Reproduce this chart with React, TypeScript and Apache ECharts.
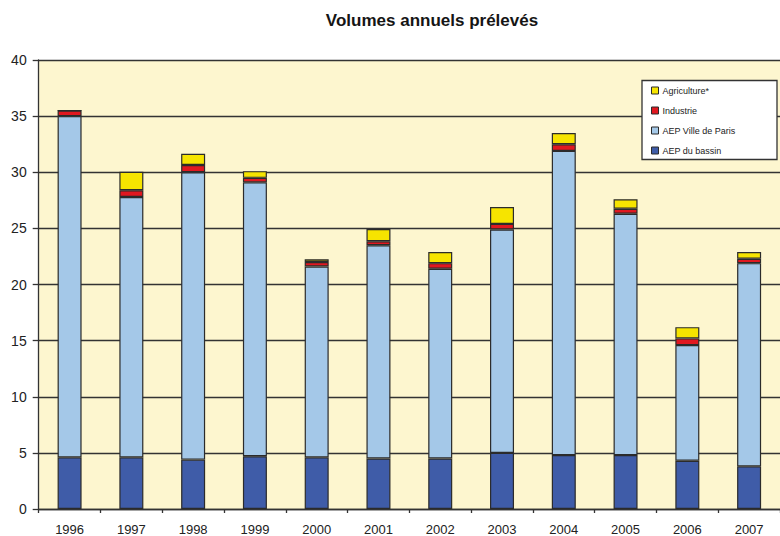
import React, { useEffect, useRef } from "react";
import * as echarts from "echarts";

const years = ["1996", "1997", "1998", "1999", "2000", "2001", "2002", "2003", "2004", "2005", "2006", "2007"];
const aepBassin = [4.6, 4.6, 4.4, 4.7, 4.6, 4.5, 4.5, 5.0, 4.8, 4.8, 4.3, 3.8];
const aepParis = [30.4, 23.2, 25.6, 24.4, 17.0, 19.0, 16.9, 19.9, 27.1, 21.5, 10.3, 18.1];
const industrie = [0.5, 0.6, 0.65, 0.4, 0.4, 0.35, 0.5, 0.5, 0.6, 0.45, 0.6, 0.4];
const agriculture = [0, 1.65, 1.0, 0.6, 0.25, 1.1, 1.0, 1.5, 1.0, 0.85, 1.0, 0.6];
const yTicks = { min: 0, max: 40, interval: 5 };

const FONT = "'Liberation Sans', Arial, sans-serif";
const BORDER = "#2b2b2b";

export default function App() {
  const ref = useRef<HTMLDivElement>(null);
  useEffect(() => {
    if (!ref.current) return;
    const chart = echarts.init(ref.current, undefined, { renderer: "svg" });
    const mk = (name: string, data: number[], color: string) => ({
      name,
      type: "bar",
      stack: "total",
      data,
      barWidth: 24,
      itemStyle: { color, borderColor: BORDER, borderWidth: 1.2 },
    });
    chart.setOption({
      animation: false,
      textStyle: { fontFamily: FONT },
      title: {
        text: "Volumes annuels prélevés",
        left: 427,
        top: 7,
        textAlign: "center",
        textStyle: { fontSize: 17, fontWeight: "bold", color: "#151515", fontFamily: FONT },
      },
      graphic: [
        {
          type: "rect",
          z: 5,
          shape: { x: 642, y: 80.5, width: 135, height: 79 },
          style: { fill: "#ffffff", stroke: "#333", lineWidth: 1.3 },
        },
      ],
      legend: {
        orient: "vertical",
        left: 642,
        top: 80,
        z: 10,
        padding: [5, 8, 4, 9],
        itemWidth: 7,
        itemHeight: 7,
        itemGap: 9,
        icon: "rect",
        data: ["Agriculture*", "Industrie", "AEP Ville de Paris", "AEP du bassin"],
        textStyle: { fontSize: 9, color: "#222", lineHeight: 11, fontFamily: FONT, padding: [0, 0, 0, -1] },
        itemStyle: { borderColor: BORDER, borderWidth: 1 },
      },
      grid: {
        left: 38.7,
        top: 60,
        width: 751,
        height: 449,
        show: true,
        backgroundColor: "#FDF6CF",
        borderWidth: 0,
      },
      xAxis: {
        type: "category",
        data: years,
        axisLine: { show: true, lineStyle: { color: "#333", width: 1.3 } },
        axisTick: { show: true, length: 4, lineStyle: { color: "#333", width: 1.3 } },
        axisLabel: { fontSize: 13, color: "#222", margin: 14, fontFamily: FONT },
      },
      yAxis: {
        type: "value",
        min: yTicks.min,
        max: yTicks.max,
        interval: yTicks.interval,
        axisLine: { show: true, lineStyle: { color: "#333", width: 1.3 } },
        axisTick: { show: true, length: 6, lineStyle: { color: "#333", width: 1.3 } },
        axisLabel: { fontSize: 14, color: "#222", margin: 12, fontFamily: FONT },
        splitLine: { show: true, lineStyle: { color: "#333", width: 1.3 } },
      },
      series: [
        mk("AEP du bassin", aepBassin, "#3F5CA8"),
        mk("AEP Ville de Paris", aepParis, "#A4C8E8"),
        mk("Industrie", industrie, "#E01820"),
        mk("Agriculture*", agriculture, "#F6E400"),
      ],
    });
    return () => chart.dispose();
  }, []);
  return (
    <div
      ref={ref}
      style={{ position: "absolute", left: 0, top: 0, width: 780, height: 536, background: "#ffffff" }}
    />
  );
}
